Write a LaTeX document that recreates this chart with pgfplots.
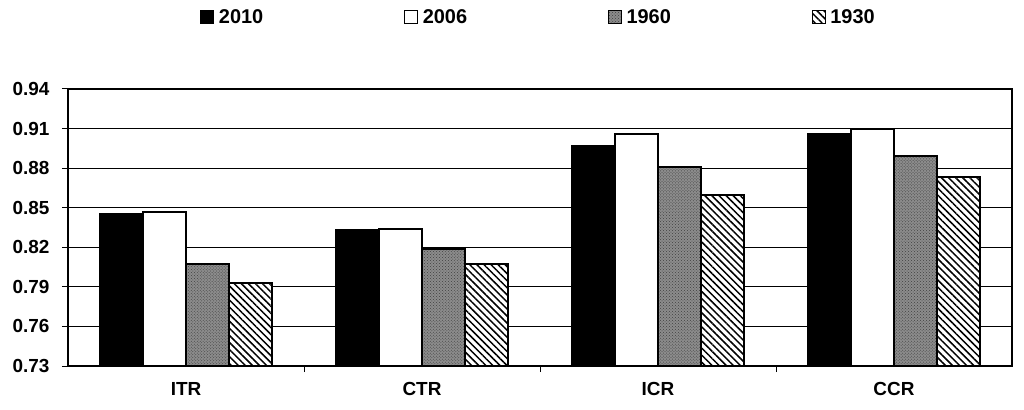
\documentclass[border=0pt]{standalone}
\usepackage{fontspec}
\setmainfont{Liberation Sans}
\usepackage{pgfplots}
\pgfplotsset{compat=1.18}
\usetikzlibrary{patterns,patterns.meta}

\begin{document}
\begin{tikzpicture}
\begin{axis}[
  at={(0,0)}, anchor=south west,
  scale only axis, width=944bp, height=277bp,
  ybar=0pt, bar width=43bp,
  xmin=-0.5, xmax=3.5, ymin=0.73, ymax=0.94,
  tick pos=left,
  xtick={0,1,2,3}, xticklabels={ITR,CTR,ICR,CCR},
  xticklabel style={yshift=-7bp},
  major x tick style={draw=none},
  minor xtick={0.5,1.5,2.5},
  minor x tick style={black, line width=1bp},
  minor tick length=6bp,
  ytick={0.73,0.76,0.79,0.82,0.85,0.88,0.91,0.94},
  yticklabel style={/pgf/number format/fixed, /pgf/number format/fixed zerofill, /pgf/number format/precision=2, /pgf/number format/assume math mode=true, xshift=-9bp},
  tick label style={font=\fontsize{19}{22}\selectfont\bfseries},
  ymajorgrids, grid style={black, line width=0.8bp},
  tick align=outside, major tick length=6bp,
  major y tick style={black, line width=1bp},
  axis line style={black, line width=1.2bp},
  legend columns=4,
  legend style={at={(0.4985,1.26)}, anchor=center, draw=none, fill=none,
    font=\fontsize{20}{22}\selectfont\bfseries,
    /tikz/every even column/.append style={column sep=139bp},
    inner sep=0pt},
  legend image code/.code={\draw[#1, line width=1bp] (0bp,-6.5bp) rectangle (13bp,6.5bp); \path (15bp,0bp);},
]
\addplot[fill=black, draw=black, line width=2bp] coordinates {(0,0.845) (1,0.833) (2,0.897) (3,0.906)};
\addplot[fill=white, draw=black, line width=2bp] coordinates {(0,0.847) (1,0.834) (2,0.906) (3,0.910)};
\addplot[fill=black!45, draw=black, line width=2bp, postaction={pattern=crosshatch dots, pattern color=black!75}] coordinates {(0,0.807) (1,0.819) (2,0.881) (3,0.889)};
\addplot[fill=white, draw=black, line width=2bp, postaction={pattern={Lines[angle=-45,distance=5bp,line width=1.5bp]}}] coordinates {(0,0.793) (1,0.807) (2,0.860) (3,0.873)};
\legend{2010,2006,1960,1930}
\end{axis}
\pgfresetboundingbox
\path (-68bp,-44bp) rectangle (956bp,366bp);
\end{tikzpicture}
\end{document}
